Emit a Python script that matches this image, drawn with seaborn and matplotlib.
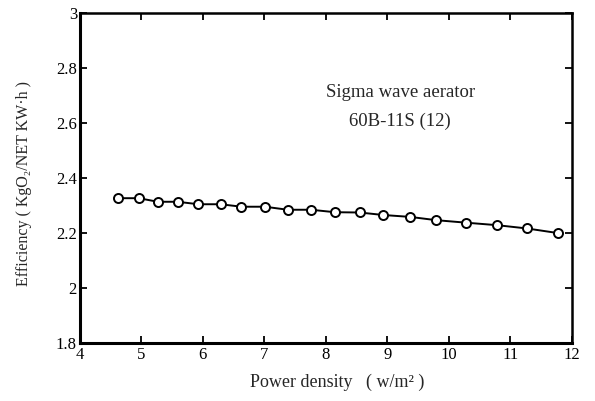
import matplotlib.pyplot as plt
import pandas as pd
import seaborn as sns

# values
power_density = [4.62, 4.96, 5.27, 5.59, 5.93, 6.29, 6.63, 7.01, 7.38, 7.76,
                 8.15, 8.55, 8.93, 9.37, 9.80, 10.28, 10.78, 11.27, 11.78]
efficiency = [2.326, 2.326, 2.313, 2.313, 2.304, 2.304, 2.295, 2.295, 2.284, 2.284,
              2.275, 2.274, 2.265, 2.258, 2.246, 2.237, 2.228, 2.216, 2.199]
x_ticks = [4, 5, 6, 7, 8, 9, 10, 11, 12]
y_ticks = [1.8, 2.0, 2.2, 2.4, 2.6, 2.8, 3.0]
y_tick_labels = ["1.8", "2", "2.2", "2.4", "2.6", "2.8", "3"]

df = pd.DataFrame({"power": power_density, "eff": efficiency})

sns.set_style("ticks")
plt.rcParams["font.family"] = ["Liberation Serif", "DejaVu Serif"]

fig = plt.figure(figsize=(5.95, 4.01), dpi=100)
ax = fig.add_axes([0.134, 0.145, 0.827, 0.823])

sns.lineplot(
    data=df, x="power", y="eff", ax=ax, color="black", linewidth=1.4,
    marker="o", markersize=6.5, markerfacecolor="white",
    markeredgecolor="black", markeredgewidth=1.4,
)

ax.set_xlim(4, 12)
ax.set_ylim(1.8, 3.0)
ax.set_xticks(x_ticks)
ax.set_xticklabels([str(t) for t in x_ticks])
ax.set_yticks(y_ticks)
ax.set_yticklabels(y_tick_labels)
# ticks point inwards on all four sides, labels only left and bottom
ax.tick_params(direction="in", length=5, width=1.3, labelsize=12,
               colors="black", top=True, right=True)
ax.tick_params(axis="x", pad=3)
ax.tick_params(axis="y", pad=2)

for s in ax.spines.values():
    s.set_visible(True)
    s.set_color("black")
for side in ["left", "bottom"]:
    ax.spines[side].set_linewidth(2.2)
for side in ["top", "right"]:
    ax.spines[side].set_linewidth(1.8)

ax.set_xlabel("Power density   ( w/m\u00b2 )", fontsize=13)
ax.set_ylabel("Efficiency ( KgO\u2082/NET KW\u00b7h )", fontsize=11.5)
# Matplotlib magic to line the labels up with the original
ax.xaxis.set_label_coords(0.523, -0.093)
ax.yaxis.set_label_coords(-0.097, 0.482)

ax.text(9.21, 2.71, "Sigma wave aerator", ha="center", va="center", fontsize=13.5)
ax.text(9.21, 2.605, "60B-11S (12)", ha="center", va="center", fontsize=13.5)

fig.savefig("out.png", dpi=100)
